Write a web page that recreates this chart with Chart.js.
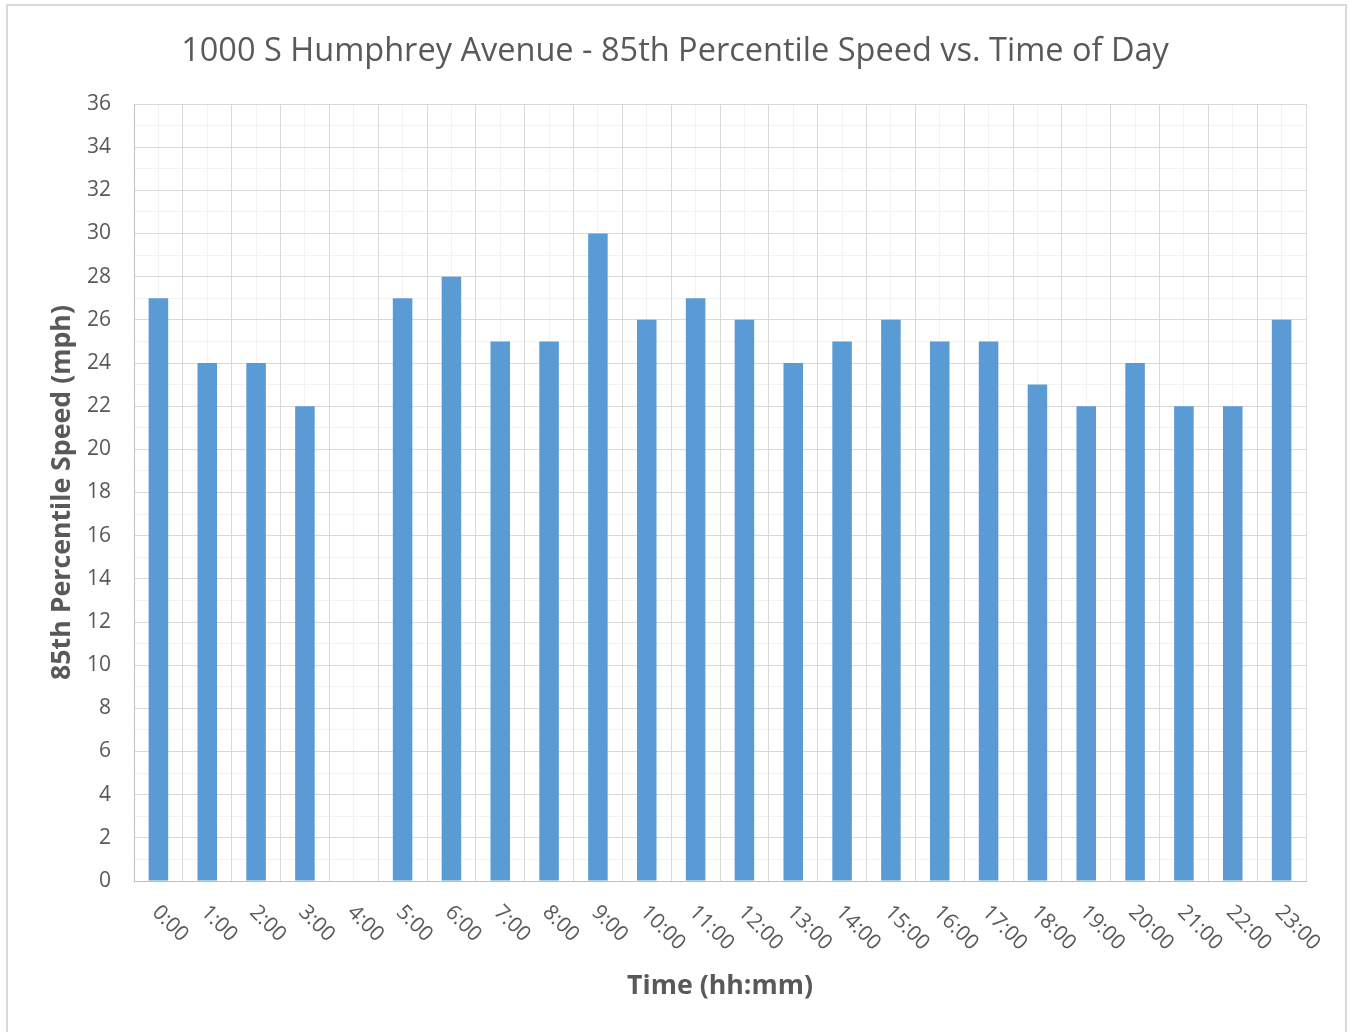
<!DOCTYPE html>
<html>
<head>
<meta charset="utf-8">
<script src="https://cdn.jsdelivr.net/npm/chart.js@4.4.1/dist/chart.umd.min.js"></script>
<style>
  html, body { margin: 0; padding: 0; background: #ffffff; }
  #wrap { position: relative; width: 1350px; height: 1032px; }
  canvas { display: block; }
</style>
</head>
<body>
<div id="wrap"><canvas id="c" width="1350" height="1032"></canvas></div>
<script>
// ---- data ----
const categories = ["0:00","1:00","2:00","3:00","4:00","5:00","6:00","7:00","8:00","9:00","10:00","11:00",
                    "12:00","13:00","14:00","15:00","16:00","17:00","18:00","19:00","20:00","21:00","22:00","23:00"];
const speed85 = [27,24,24,22,null,27,28,25,25,30,26,27,26,24,25,26,25,25,23,22,24,22,22,26];
const yTickMin = 0;
const yTickMax = 36;
const yTickStep = 2;
const chartTitle = "1000 S Humphrey Avenue - 85th Percentile Speed vs. Time of Day";
const xTitle = "Time (hh:mm)";
const yTitle = "85th Percentile Speed (mph)";

// ---- style ----
const FONT = "'Open Sans', 'Noto Sans', sans-serif";
const TXT = '#595959';
const BAR = '#5B9BD5';
const MAJOR = '#D9D9D9';
const MINOR = '#F2F2F2';
const AXIS = '#BFBFBF';

// fit font sizes to target text widths measured on the reference
const mctx = document.createElement('canvas').getContext('2d');
function fitSize(text, weight, target) {
  mctx.font = weight + ' 100px ' + FONT;
  return 100 * target / mctx.measureText(text).width;
}
const titleSize = fitSize(chartTitle, 'normal', 988);
const yTitleSize = fitSize(yTitle, 'bold', 375);
const xTitleSize = fitSize(xTitle, 'bold', 186);
const tickSize = 21;

const PLOT_LEFT = 134, PLOT_TOP = 104, PLOT_RIGHT = 1306, PLOT_BOTTOM = 881;
const W = 1350, H = 1032;
const TITLE_Y = 52;

const frame = {
  id: 'frame',
  beforeDraw(chart) {
    const ctx = chart.ctx;
    ctx.save();
    ctx.fillStyle = '#fff';
    ctx.fillRect(0, 0, W, H);
    ctx.strokeStyle = MAJOR;
    ctx.lineWidth = 2;
    ctx.beginPath();
    ctx.moveTo(7, H + 5);
    ctx.lineTo(7, 5);
    ctx.lineTo(1346, 5);
    ctx.lineTo(1346, H + 5);
    ctx.stroke();
    ctx.restore();
  }
};

// rotated (+45deg, reading downward) category labels
const xLabels = {
  id: 'xLabels',
  afterDraw(chart) {
    const ctx = chart.ctx;
    const xs = chart.scales.x;
    ctx.save();
    ctx.fillStyle = TXT;
    ctx.font = tickSize + 'px ' + FONT;
    ctx.textAlign = 'left';
    ctx.textBaseline = 'middle';
    categories.forEach((lab, i) => {
      const px = xs.getPixelForValue(i);
      ctx.save();
      ctx.translate(px - 3, xs.top + 28);
      ctx.rotate(Math.PI / 4);
      ctx.fillText(lab, 0, 0);
      ctx.restore();
    });
    ctx.restore();
  }
};

new Chart(document.getElementById('c'), {
  type: 'bar',
  data: {
    labels: categories,
    datasets: [{
      label: '85th Percentile Speed',
      data: speed85,
      backgroundColor: BAR,
      borderWidth: 0,
      categoryPercentage: 1.0,
      barPercentage: 0.4
    }]
  },
  options: {
    responsive: false,
    animation: false,
    devicePixelRatio: 1,
    layout: { padding: 0 },
    plugins: {
      legend: { display: false },
      tooltip: { enabled: false },
      title: {
        display: true,
        text: chartTitle,
        color: TXT,
        font: { family: FONT, size: titleSize, weight: 'normal', lineHeight: 1.2 },
        padding: { top: TITLE_Y - titleSize * 0.6, bottom: PLOT_TOP - (TITLE_Y - titleSize * 0.6) - titleSize * 1.2 }
      }
    },
    scales: {
      x: {
        type: 'category',
        position: 'bottom',
        offset: true,
        grid: { offset: true, color: MAJOR, lineWidth: 1, drawTicks: false },
        border: { display: true, color: AXIS, width: 1 },
        ticks: { display: false },
        title: {
          display: true, text: xTitle, color: TXT,
          font: { family: FONT, size: xTitleSize, weight: 'bold', lineHeight: 1.2 },
          padding: { top: 0, bottom: (H - 986) - xTitleSize * 0.6 }
        },
        afterFit(s) { s.height = H - PLOT_BOTTOM; }
      },
      xMinor: {
        type: 'category',
        position: 'bottom',
        offset: true,
        grid: { offset: false, color: MINOR, lineWidth: 1, drawTicks: false, z: -2 },
        border: { display: false },
        ticks: { display: false },
        afterFit(s) { s.height = 0; }
      },
      y: {
        type: 'linear',
        position: 'left',
        min: yTickMin,
        max: yTickMax,
        grid: { color: MAJOR, lineWidth: 1, drawTicks: false },
        border: { display: true, color: AXIS, width: 1 },
        ticks: {
          stepSize: yTickStep, color: TXT, padding: 23,
          font: { family: FONT, size: tickSize }
        },
        title: {
          display: true, text: yTitle, color: TXT,
          font: { family: FONT, size: yTitleSize, weight: 'bold', lineHeight: 1.2 },
          padding: { top: 62 - yTitleSize * 0.6, bottom: 0 }
        },
        afterFit(s) { s.width = PLOT_LEFT; }
      },
      yMinor: {
        type: 'linear',
        position: 'right',
        min: yTickMin,
        max: yTickMax,
        grid: {
          drawTicks: false, lineWidth: 1, z: -2,
          color: (c) => (c.tick && c.tick.value % yTickStep === 0) ? 'rgba(0,0,0,0)' : MINOR
        },
        border: { display: false },
        ticks: { display: false, stepSize: 1 },
        afterFit(s) { s.width = W - PLOT_RIGHT; }
      }
    }
  },
  plugins: [frame, xLabels]
});
</script>
</body>
</html>
